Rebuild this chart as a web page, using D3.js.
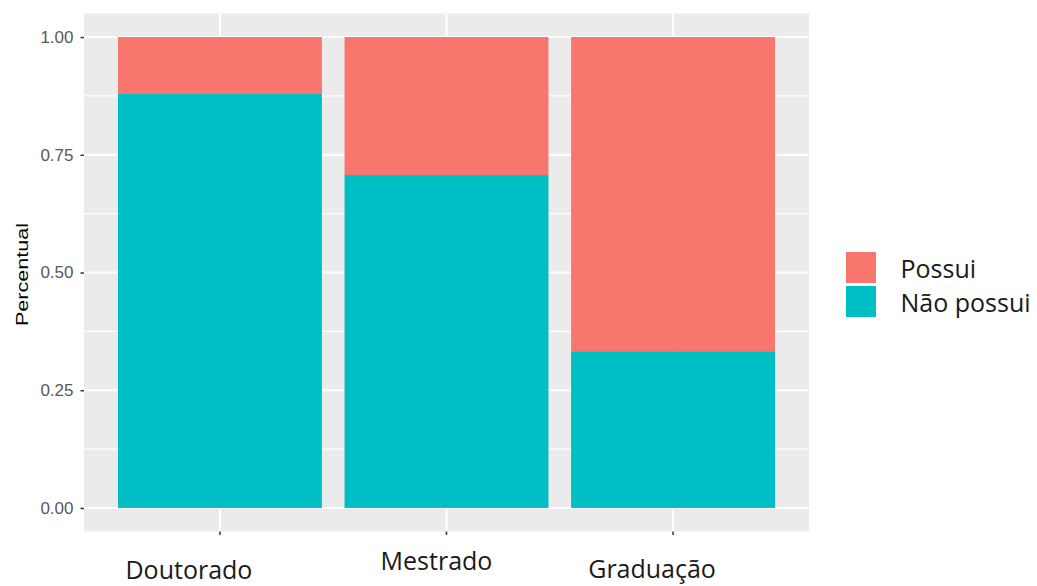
<!DOCTYPE html>
<html>
<head>
<meta charset="utf-8">
<script src="https://cdn.jsdelivr.net/npm/d3@7"></script>
<style>
  html, body { margin: 0; padding: 0; background: #ffffff; }
  svg { display: block; }
</style>
</head>
<body>
<svg id="chart" width="1037" height="586"></svg>
<script>
// Escolaridade e proporção de quem possui / não possui
const categories = ["Doutorado", "Mestrado", "Graduação"];
const naoPossui = [0.879, 0.707, 0.333];
const possui = [0.121, 0.293, 0.667];
const seriesNames = ["Possui", "Não possui"];
const yTicks = [0, 0.25, 0.5, 0.75, 1];
const yMinor = [0.125, 0.375, 0.625, 0.875];

const colors = { "Possui": "#F8766D", "Não possui": "#00BFC4" };

// panel layout
const panel = { left: 84, right: 809, top: 13.5, bottom: 531.5 };
// category labels sit slightly off their tick positions
const labelShift = [-31, -10, -21];
const labelBaseline = [579, 569.5, 578];

const svg = d3.select("#chart");

const x = d3.scaleBand()
  .domain(categories)
  .range([panel.left, panel.right])
  .paddingInner(0.1)
  .paddingOuter(0.15);

const y = d3.scaleLinear()
  .domain([-0.05, 1.05])
  .range([panel.bottom, panel.top]);

// panel background
svg.append("rect")
  .attr("x", panel.left).attr("y", panel.top)
  .attr("width", panel.right - panel.left)
  .attr("height", panel.bottom - panel.top)
  .attr("fill", "#EBEBEB");

// minor grid
svg.append("g").selectAll("line").data(yMinor).join("line")
  .attr("x1", panel.left).attr("x2", panel.right)
  .attr("y1", d => y(d)).attr("y2", d => y(d))
  .attr("stroke", "#ffffff").attr("stroke-width", 1.2);

// major grid
svg.append("g").selectAll("line").data(yTicks).join("line")
  .attr("x1", panel.left).attr("x2", panel.right)
  .attr("y1", d => y(d)).attr("y2", d => y(d))
  .attr("stroke", "#ffffff").attr("stroke-width", 2);

svg.append("g").selectAll("line").data(categories).join("line")
  .attr("x1", d => x(d) + x.bandwidth() / 2).attr("x2", d => x(d) + x.bandwidth() / 2)
  .attr("y1", panel.top).attr("y2", panel.bottom)
  .attr("stroke", "#ffffff").attr("stroke-width", 2);

// stacked bars
const rows = categories.map((c, i) => ({ cat: c, "Não possui": naoPossui[i], "Possui": possui[i] }));
const stack = d3.stack().keys(["Não possui", "Possui"]);
const layers = stack(rows);

svg.append("g").selectAll("g").data(layers).join("g")
  .attr("fill", d => colors[d.key])
  .selectAll("rect").data(d => d).join("rect")
  .attr("x", d => x(d.data.cat))
  .attr("width", x.bandwidth())
  .attr("y", d => y(d[1]))
  .attr("height", d => y(d[0]) - y(d[1]));

// y axis
const yAxis = d3.axisLeft(y)
  .tickValues(yTicks)
  .tickFormat(d3.format(".2f"))
  .tickSize(3.5)
  .tickPadding(7);

const gy = svg.append("g")
  .attr("transform", `translate(${panel.left},0)`)
  .call(yAxis);
gy.select(".domain").remove();
gy.selectAll(".tick line").attr("stroke", "#333333").attr("stroke-width", 1.5);
gy.selectAll(".tick text")
  .attr("fill", "#595959")
  .style("font-family", "'Liberation Sans', Arial, sans-serif")
  .style("font-size", "17px");

// x axis ticks
const xAxis = d3.axisBottom(x).tickSize(3.5).tickFormat("");
const gx = svg.append("g")
  .attr("transform", `translate(0,${panel.bottom})`)
  .call(xAxis);
gx.select(".domain").remove();
gx.selectAll(".tick line").attr("stroke", "#333333").attr("stroke-width", 1.5);

// category labels
svg.append("g").selectAll("text").data(categories).join("text")
  .attr("x", (d, i) => x(d) + x.bandwidth() / 2 + labelShift[i])
  .attr("y", (d, i) => labelBaseline[i])
  .attr("text-anchor", "middle")
  .attr("fill", "#1a1a1a")
  .style("font-family", "'Open Sans', sans-serif")
  .style("font-size", "25px")
  .text(d => d);

// y axis title
svg.append("text")
  .attr("transform", `translate(28,${(y(0) + y(1)) / 2 + 2}) rotate(-90)`)
  .attr("text-anchor", "middle")
  .attr("fill", "#000000")
  .attr("textLength", 103)
  .attr("lengthAdjust", "spacingAndGlyphs")
  .style("font-family", "'Liberation Sans', Arial, sans-serif")
  .style("font-size", "16px")
  .text("Percentual");

// legend
const legend = svg.append("g").attr("transform", "translate(846,252)");
const keyH = 31, keyGap = 3, keyW = 30;
const lg = legend.selectAll("g").data(seriesNames).join("g")
  .attr("transform", (d, i) => `translate(0,${i * (keyH + keyGap)})`);
lg.append("rect")
  .attr("width", keyW).attr("height", keyH)
  .attr("fill", d => colors[d]);
lg.append("text")
  .attr("x", 54.5)
  .attr("y", 26.3)
  .attr("fill", "#1a1a1a")
  .style("font-family", "'Open Sans', sans-serif")
  .style("font-size", "25px")
  .text(d => d);
</script>
</body>
</html>
